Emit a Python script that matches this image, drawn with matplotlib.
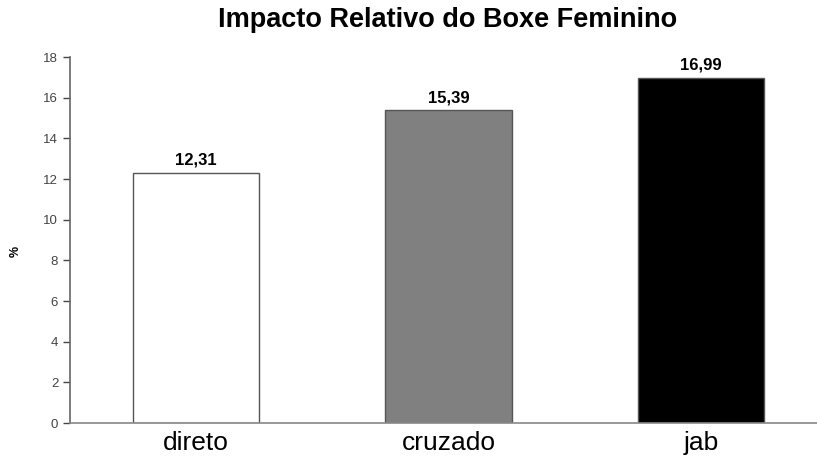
import matplotlib.pyplot as plt

categories = ["direto", "cruzado", "jab"]
values = [12.31, 15.39, 16.99]
labels = ["12,31", "15,39", "16,99"]
colors = ["white", "#808080", "black"]

plt.rcParams['font.family'] = ['Liberation Sans', 'DejaVu Sans']

fig = plt.figure(figsize=(8.17, 4.58), dpi=100)
ax = fig.add_axes([0.0857, 0.0764, 0.9143, 0.7991])

x = range(len(categories))
bars = ax.bar(x, values, width=0.5, color=colors, edgecolor="#555555", linewidth=1)

for b, lab in zip(bars, labels):
    ax.text(b.get_x() + b.get_width() / 2, b.get_height() + 0.25, lab,
            ha="center", va="bottom", fontsize=12, fontweight="bold")

ax.set_xlim(-0.5, 2.46)
ax.set_ylim(0, 18)
ax.set_yticks(range(0, 19, 2))
ax.set_xticks(list(x))
ax.set_xticklabels(categories, fontsize=19)
ax.tick_params(axis="x", length=0, pad=6)
ax.tick_params(axis="y", labelsize=9.5, labelcolor="#444444", length=5, color="#444444", width=1)

for s in ["top", "right"]:
    ax.spines[s].set_visible(False)
ax.spines["left"].set_color("#666666")
ax.spines["bottom"].set_color("#888888")
ax.spines["left"].set_linewidth(1.2)
ax.spines["bottom"].set_linewidth(1.2)

ax.set_ylabel("%", fontsize=9, fontweight="bold")
ax.yaxis.set_label_coords(-0.064, 0.47)
fig.suptitle("Impacto Relativo do Boxe Feminino", x=0.548, y=0.985,
             fontsize=19.5, fontweight="bold", va="top")

fig.savefig("out.png", dpi=100)
